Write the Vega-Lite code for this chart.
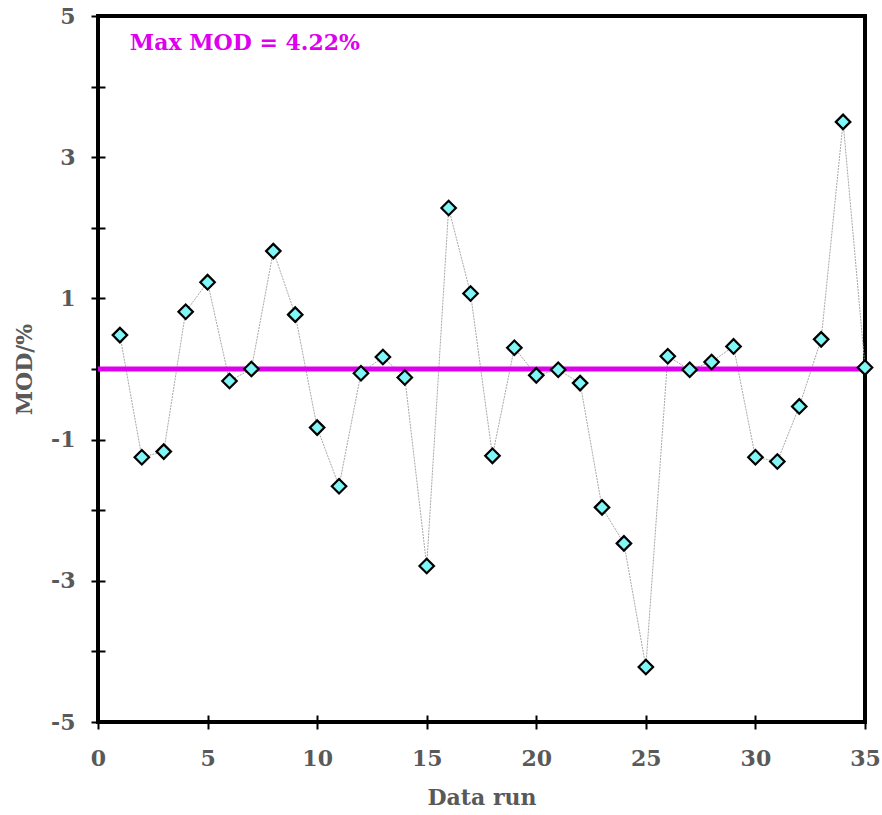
{
  "$schema": "https://vega.github.io/schema/vega-lite/v6.json",
  "width": 767,
  "height": 706,
  "autosize": {"type": "none"},
  "padding": {"left": 98, "top": 16, "right": 17, "bottom": 93},
  "background": "white",
  "config": {
    "view": {"stroke": "black", "strokeWidth": 4},
    "axis": {
      "domain": false,
      "grid": false,
      "offset": -7,
      "tickSize": 14,
      "tickWidth": 2,
      "tickColor": "black",
      "labelFont": "DejaVu Serif",
      "labelFontWeight": "bold",
      "labelFontSize": 22,
      "labelColor": "#595959",
      "titleFont": "DejaVu Serif",
      "titleFontWeight": "bold",
      "titleFontSize": 22,
      "titleColor": "#595959"
    }
  },
  "datasets": {
    "runs": [
      {"run": 1, "mod": 0.48},
      {"run": 2, "mod": -1.25},
      {"run": 3, "mod": -1.17},
      {"run": 4, "mod": 0.81},
      {"run": 5, "mod": 1.23},
      {"run": 6, "mod": -0.17},
      {"run": 7, "mod": 0.0},
      {"run": 8, "mod": 1.67},
      {"run": 9, "mod": 0.77},
      {"run": 10, "mod": -0.83},
      {"run": 11, "mod": -1.66},
      {"run": 12, "mod": -0.06},
      {"run": 13, "mod": 0.17},
      {"run": 14, "mod": -0.12},
      {"run": 15, "mod": -2.79},
      {"run": 16, "mod": 2.28},
      {"run": 17, "mod": 1.07},
      {"run": 18, "mod": -1.23},
      {"run": 19, "mod": 0.3},
      {"run": 20, "mod": -0.09},
      {"run": 21, "mod": -0.01},
      {"run": 22, "mod": -0.2},
      {"run": 23, "mod": -1.96},
      {"run": 24, "mod": -2.47},
      {"run": 25, "mod": -4.22},
      {"run": 26, "mod": 0.18},
      {"run": 27, "mod": -0.01},
      {"run": 28, "mod": 0.1},
      {"run": 29, "mod": 0.32},
      {"run": 30, "mod": -1.25},
      {"run": 31, "mod": -1.31},
      {"run": 32, "mod": -0.53},
      {"run": 33, "mod": 0.42},
      {"run": 34, "mod": 3.5},
      {"run": 35, "mod": 0.02}
    ],
    "ref": [{"run": 0, "run2": 35, "mod": 0}],
    "note": [{"run": 1.45, "mod": 4.62, "label": "Max MOD = 4.22%"}]
  },
  "encoding": {
    "x": {
      "field": "run",
      "type": "quantitative",
      "scale": {"domain": [0, 35], "nice": false, "zero": false},
      "axis": {
        "values": [0, 5, 10, 15, 20, 25, 30, 35],
        "title": "Data run",
        "labelPadding": 19,
        "titlePadding": 18,
        "labelFlush": false
      }
    },
    "y": {
      "field": "mod",
      "type": "quantitative",
      "scale": {"domain": [-5, 5], "nice": false, "zero": false},
      "axis": {
        "values": [-5, -4, -3, -2, -1, 0, 1, 2, 3, 4, 5],
        "labelExpr": "abs(datum.value) % 2 == 1 ? toString(datum.value) : ''",
        "title": "MOD/%",
        "labelPadding": 16,
        "titlePadding": 14,
        "labelFlush": false
      }
    }
  },
  "layer": [
    {
      "data": {"name": "runs"},
      "mark": {"type": "line", "color": "#a8a8a8", "strokeWidth": 1, "strokeDash": [2, 1]}
    },
    {
      "data": {"name": "ref"},
      "mark": {"type": "rule", "color": "#dd00ee", "strokeWidth": 5},
      "encoding": {"x2": {"field": "run2"}}
    },
    {
      "data": {"name": "runs"},
      "mark": {"type": "point", "shape": "diamond", "filled": true, "fill": "#80f6f6", "stroke": "black", "strokeWidth": 2.2, "size": 210, "opacity": 1}
    },
    {
      "data": {"name": "note"},
      "mark": {"type": "text", "align": "left", "baseline": "middle", "font": "DejaVu Serif", "fontWeight": "bold", "fontSize": 22, "color": "#dd00ee"},
      "encoding": {"text": {"field": "label"}}
    }
  ]
}
